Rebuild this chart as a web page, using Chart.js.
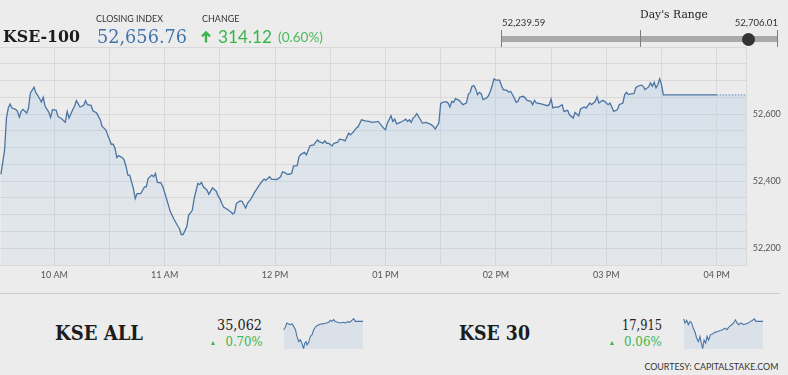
<!DOCTYPE html>
<html><head><meta charset="utf-8">
<script src="https://cdn.jsdelivr.net/npm/chart.js@4.4.1/dist/chart.umd.min.js"></script>
<style>
html,body{margin:0;padding:0;background:#ececec;}
#wrap{position:relative;width:788px;height:375px;overflow:hidden;background:#ececec;}
canvas{position:absolute;}
.t{position:absolute;left:0;top:0;white-space:nowrap;line-height:1;}
.sh{position:absolute;}
</style></head><body><div id="wrap">
<canvas id="main" width="788" height="290" style="left:0;top:0;width:788px;height:290px"></canvas>
<canvas id="sparkAll" width="80" height="31" style="left:283px;top:318px;width:80px;height:31px"></canvas>
<canvas id="spark30" width="80" height="31" style="left:683px;top:318px;width:80px;height:31px"></canvas>
<svg id="arrow" width="10" height="12" viewBox="0 0 10 12" style="position:absolute;left:201px;top:31px;overflow:visible">
  <polyline points="1,5.4 5,1.4 9,5.4" fill="none" stroke="#3bb54a" stroke-width="2.3" stroke-linecap="butt" stroke-linejoin="miter"/>
  <line x1="5" y1="1.6" x2="5" y2="11.5" stroke="#3bb54a" stroke-width="2.3"/>
</svg>
</div>
<script>
// ---- main series: minutes after 09:30 and KSE-100 level ----
const times = [1,3,4,5,6,7,9,10,11,12,13,15,16,17,19,20,21,23,24,25,27,28,29,31,32,34,36,37,38,40,41,42,44,46,47,48,50,51,53,55,56,58,59,61,62,63,64,65,67,68,69,70,71,73,74,75,77,78,79,80,81,83,84,85,86,88,89,91,93,95,97,98,99,100,102,103,105,106,108,109,110,111,113,114,116,118,119,120,121,122,124,126,127,128,129,131,132,134,135,137,139,140,142,144,145,147,148,151,153,154,155,157,159,160,162,163,164,166,167,169,171,173,174,176,177,178,179,181,182,184,185,187,188,190,191,193,194,195,197,199,201,202,204,206,209,210,211,213,214,215,216,218,220,221,222,223,224,225,226,227,229,230,232,234,235,236,237,239,240,241,243,244,245,246,247,248,250,251,252,254,255,256,257,258,259,260,261,262,263,265,266,267,268,269,270,272,273,274,276,277,278,280,281,282,283,285,286,287,289,290,291,292,294,296,298,299,300,301,302,304,306,307,309,310,312,313,315,316,318,319,321,322,324,325,326,328,329,331,332,333,334,336,337,339,340,341,342,344,345,346,347,349,350,351,353,354,355,356,357,358,359,360,361,390,406];
const kse100 = [52420,52493,52588,52618,52630,52618,52614,52608,52591,52608,52614,52603,52618,52663,52680,52663,52656,52636,52650,52623,52606,52590,52613,52612,52593,52586,52576,52608,52588,52613,52623,52640,52621,52626,52640,52628,52626,52610,52603,52583,52563,52553,52538,52510,52510,52498,52470,52476,52470,52463,52443,52418,52418,52378,52348,52363,52363,52373,52383,52383,52408,52418,52413,52423,52396,52395,52383,52348,52310,52287,52267,52259,52241,52241,52264,52298,52313,52348,52393,52390,52396,52383,52373,52361,52380,52370,52356,52348,52334,52323,52316,52308,52302,52307,52334,52341,52340,52320,52334,52348,52368,52376,52393,52406,52403,52413,52406,52405,52413,52428,52426,52420,52423,52445,52446,52473,52480,52486,52478,52506,52508,52523,52518,52513,52520,52513,52513,52505,52513,52516,52525,52523,52520,52543,52538,52550,52558,52561,52583,52580,52578,52576,52576,52578,52558,52553,52573,52595,52578,52585,52571,52575,52581,52585,52578,52583,52575,52588,52593,52601,52583,52573,52575,52571,52568,52563,52555,52573,52631,52635,52637,52633,52621,52638,52635,52646,52641,52635,52628,52633,52658,52665,52683,52685,52675,52658,52665,52661,52643,52648,52655,52668,52685,52705,52701,52701,52685,52673,52671,52665,52668,52648,52635,52638,52651,52653,52648,52641,52638,52628,52641,52633,52631,52628,52625,52628,52645,52618,52621,52621,52628,52608,52611,52598,52588,52605,52595,52615,52621,52618,52633,52628,52638,52651,52633,52641,52638,52628,52633,52621,52608,52613,52628,52633,52658,52665,52658,52661,52661,52678,52683,52686,52683,52673,52681,52693,52683,52695,52678,52688,52705,52688,52657,52657,52657];
const sessionEnd = 390; // 04 PM: the line is dotted after this

// ---- axes ----
const xTickLabels = ['10 AM','11 AM','12 PM','01 PM','02 PM','03 PM','04 PM'];
const yTickLabels = [52200,52400,52600];

// ---- header figures ----
const closingIndex = 52656.76;
const change = 314.12;
const changePct = 0.60;
const dayLow = 52239.59;
const dayHigh = 52706.01;

// ---- KSE ALL sparkline ----
const allTimes = [3,12,20,29,37,46,54,63,71,80,88,96,101,105,110,117,122,130,139,147,156,164,173,181,193,206,220,232,240,249,257,266,277,291,305,316,328,338,350,359,367,384,406];
const allValues = [35000,35020,35050,35042,35037,35045,35025,35000,34950,34912,34925,34900,34875,34862,34900,34912,34887,34905,34950,34962,35000,35020,35030,35037,35042,35045,35050,35055,35070,35062,35075,35060,35055,35050,35055,35050,35060,35055,35070,35082,35062,35062,35062];
const allClose = 35062, allPct = 0.70;

// ---- KSE 30 sparkline ----
const k30Times = [3,10,19,27,36,44,52,63,69,78,86,93,100,107,115,122,130,139,151,162,176,189,201,213,223,235,247,257,266,274,283,294,308,320,332,342,354,362,370,387,406];
const k30Values = [17926,17908,17920,17900,17915,17908,17885,17862,17840,17825,17848,17818,17795,17832,17818,17848,17832,17855,17860,17866,17870,17874,17878,17885,17878,17892,17900,17908,17922,17908,17900,17908,17900,17904,17908,17915,17920,17926,17915,17915,17915];
const k30Close = 17915, k30Pct = 0.06;

if (times.length !== kse100.length) throw new Error('main len ' + times.length + ' vs ' + kse100.length);
if (allTimes.length !== allValues.length) throw new Error('all len');
if (k30Times.length !== k30Values.length) throw new Error('k30 len');

const wrap = document.getElementById('wrap');
const fmt = (v, d) => v.toLocaleString('en-US', {minimumFractionDigits:d, maximumFractionDigits:d});

function label(text, o) {
  const el = document.createElement('div');
  el.className = 't';
  el.style.font = (o.weight||400) + ' ' + o.size + 'px ' + o.family;
  el.style.color = o.color;
  el.appendChild(document.createTextNode(text));
  const mk = document.createElement('i');
  mk.style.cssText = 'display:inline-block;width:0;height:0;';
  el.appendChild(mk);
  wrap.appendChild(el);
  const r = el.getBoundingClientRect();
  const w = r.width;
  const baseOff = mk.getBoundingClientRect().top - r.top;
  let left = o.x;
  if (o.align === 'right') left = o.x - w;
  else if (o.align === 'center') left = o.x - w / 2;
  el.style.left = left + 'px';
  el.style.top = (o.base - baseOff) + 'px';
  if (o.w) {
    el.style.transform = 'scaleX(' + (o.w / w) + ')';
    el.style.transformOrigin = o.align === 'right' ? 'right' : (o.align === 'center' ? 'center' : 'left');
  }
  return el;
}
function shape(css) {
  const d = document.createElement('div');
  d.className = 'sh';
  d.style.cssText += css;
  wrap.appendChild(d);
  return d;
}

const SERIF = '"DejaVu Serif", serif';
const SANS = 'Lato, "Open Sans", sans-serif';
const GREEN = '#3bb54a';

// header
label('KSE-100', {x:2.7, base:41.7, size:17, weight:700, family:SERIF, color:'#1c1c1c', w:77});
label('CLOSING INDEX', {x:96, base:21.7, size:9.5, family:SANS, color:'#333', w:67});
label(fmt(closingIndex,2), {x:96.7, base:42.7, size:18, family:SERIF, color:'#4173ae', w:90});
label('CHANGE', {x:201.5, base:21.7, size:9.5, family:SANS, color:'#333', w:37.5});
label(fmt(change,2), {x:218, base:42.7, size:17.5, family:SANS, color:GREEN, w:54});
label('(' + changePct.toFixed(2) + '%)', {x:278, base:41.8, size:12.5, family:SANS, color:'#4cba5e', w:45});

// day's range
label("Day's Range", {x:640, base:17.8, size:11, family:SERIF, color:'#222', w:68});
label(fmt(dayLow,2), {x:501.7, base:26, size:9.5, family:SANS, color:'#333', w:43.3});
label(fmt(dayHigh,2), {x:778.3, base:26, size:9.5, family:SANS, color:'#333', align:'right', w:43.3});
const barL = 501, barR = 778;
shape('left:'+barL+'px;top:36.3px;width:'+(barR-barL)+'px;height:5.5px;background:#a9a9a9;');
[barL, (barL+barR)/2, barR-1].forEach(x => shape('left:'+x+'px;top:30px;width:1px;height:16.7px;background:#7d7d7d;'));
const dotX = barL + (closingIndex - dayLow) / (dayHigh - dayLow) * (barR - barL);
shape('left:'+(dotX-6.5)+'px;top:32.5px;width:13px;height:13px;border-radius:50%;background:#333;');

// bottom section
shape('left:0;top:292.8px;width:780px;height:1.2px;background:#cdcdcd;');
label('KSE ALL', {x:55, base:340, size:21, weight:700, family:SERIF, color:'#1c1c1c', w:88});
label(allClose.toLocaleString('en-US'), {x:262.3, base:330, size:14, family:SERIF, color:'#222', align:'right', w:45});
label(allPct.toFixed(2) + '%', {x:262.3, base:345.7, size:12.5, family:SERIF, color:GREEN, align:'right', w:37.3});
shape('left:210.5px;top:340.5px;width:0;height:0;border-left:2.8px solid transparent;border-right:2.8px solid transparent;border-bottom:4px solid '+GREEN+';');
label('KSE 30', {x:459, base:340, size:21, weight:700, family:SERIF, color:'#1c1c1c', w:71});
label(k30Close.toLocaleString('en-US'), {x:661.7, base:330, size:14, family:SERIF, color:'#222', align:'right', w:40});
label(k30Pct.toFixed(2) + '%', {x:661.7, base:345.7, size:12.5, family:SERIF, color:GREEN, align:'right', w:37.7});
shape('left:610px;top:340.5px;width:0;height:0;border-left:2.8px solid transparent;border-right:2.8px solid transparent;border-bottom:4px solid '+GREEN+';');
label('COURTESY: CAPITALSTAKE.COM', {x:778.3, base:370, size:9.5, family:SANS, color:'#333', align:'right', w:134});

// main chart
const GRID = '#d9d9d9';
const xGrid = []; for (let m = 30; m <= 390; m += 30) xGrid.push(m);
const yGrid = []; for (let v = 52150; v <= 52800; v += 50) yGrid.push(v);

new Chart(document.getElementById('main'), {
  type: 'line',
  data: { datasets: [{
    data: times.map((t, i) => ({x: t, y: kse100[i]})),
    borderColor: '#4a74a3', borderWidth: 1.3, pointRadius: 0, tension: 0, fill: 'start',
    segment: {
      borderDash: (c) => (c.p0.parsed.x >= sessionEnd ? [1.5, 1.5] : undefined),
      borderColor: (c) => (c.p0.parsed.x >= sessionEnd ? '#7f9dbf' : undefined)
    },
    backgroundColor: (ctx) => {
      const a = ctx.chart.chartArea;
      if (!a) return 'rgba(168,200,232,0.2)';
      const g = ctx.chart.ctx.createLinearGradient(0, a.top, 0, a.bottom);
      g.addColorStop(0, 'rgba(160,195,230,0.32)');
      g.addColorStop(1, 'rgba(168,200,232,0.12)');
      return g;
    }
  }]},
  options: {
    responsive: false, animation: false, events: [],
    layout: { padding: { top: 47, left: 0, right: 0, bottom: 0 } },
    plugins: { legend: { display: false }, tooltip: { enabled: false } },
    scales: {
      x: {
        type: 'linear', min: 0.5, max: 406.3,
        grid: { color: GRID, drawTicks: false, lineWidth: 1 },
        border: { color: GRID },
        ticks: { autoSkip: false, maxRotation: 0, padding: 5, color: '#555', font: { family: 'Lato', size: 9 },
          callback: (v) => ((v - 30) % 60 === 0 ? xTickLabels[(v - 30) / 60] : '') },
        afterBuildTicks: (s) => { s.ticks = xGrid.map(v => ({ value: v })); },
        afterFit: (s) => { s.height = 25; }
      },
      y: {
        position: 'right', min: 52150, max: 52800,
        grid: { color: GRID, drawTicks: false, lineWidth: 1 },
        border: { color: GRID },
        ticks: { autoSkip: false, padding: 6, color: '#555', font: { family: 'Lato', size: 9 },
          callback: (v) => (yTickLabels.includes(v) ? v.toLocaleString('en-US') : '') },
        afterBuildTicks: (s) => { s.ticks = yGrid.map(v => ({ value: v })); },
        afterFit: (s) => { s.width = 41.3; }
      }
    }
  }
});

function spark(id, tt, vv, min, max) {
  new Chart(document.getElementById(id), {
    type: 'line',
    data: { datasets: [{ data: tt.map((t, i) => ({x: t, y: vv[i]})), borderColor: '#4a74a3', borderWidth: 1.1,
      pointRadius: 0, tension: 0, fill: 'start', backgroundColor: '#dae1e9' }]},
    options: {
      responsive: false, animation: false, events: [],
      layout: { padding: 0 },
      plugins: { legend: { display: false }, tooltip: { enabled: false } },
      scales: {
        x: { type: 'linear', min: 0, max: 406, display: false },
        y: { min: min, max: max, display: false }
      }
    }
  });
}
spark('sparkAll', allTimes, allValues, 34857, 35087);
spark('spark30', k30Times, k30Values, 17792, 17930);
</script>
</body></html>
